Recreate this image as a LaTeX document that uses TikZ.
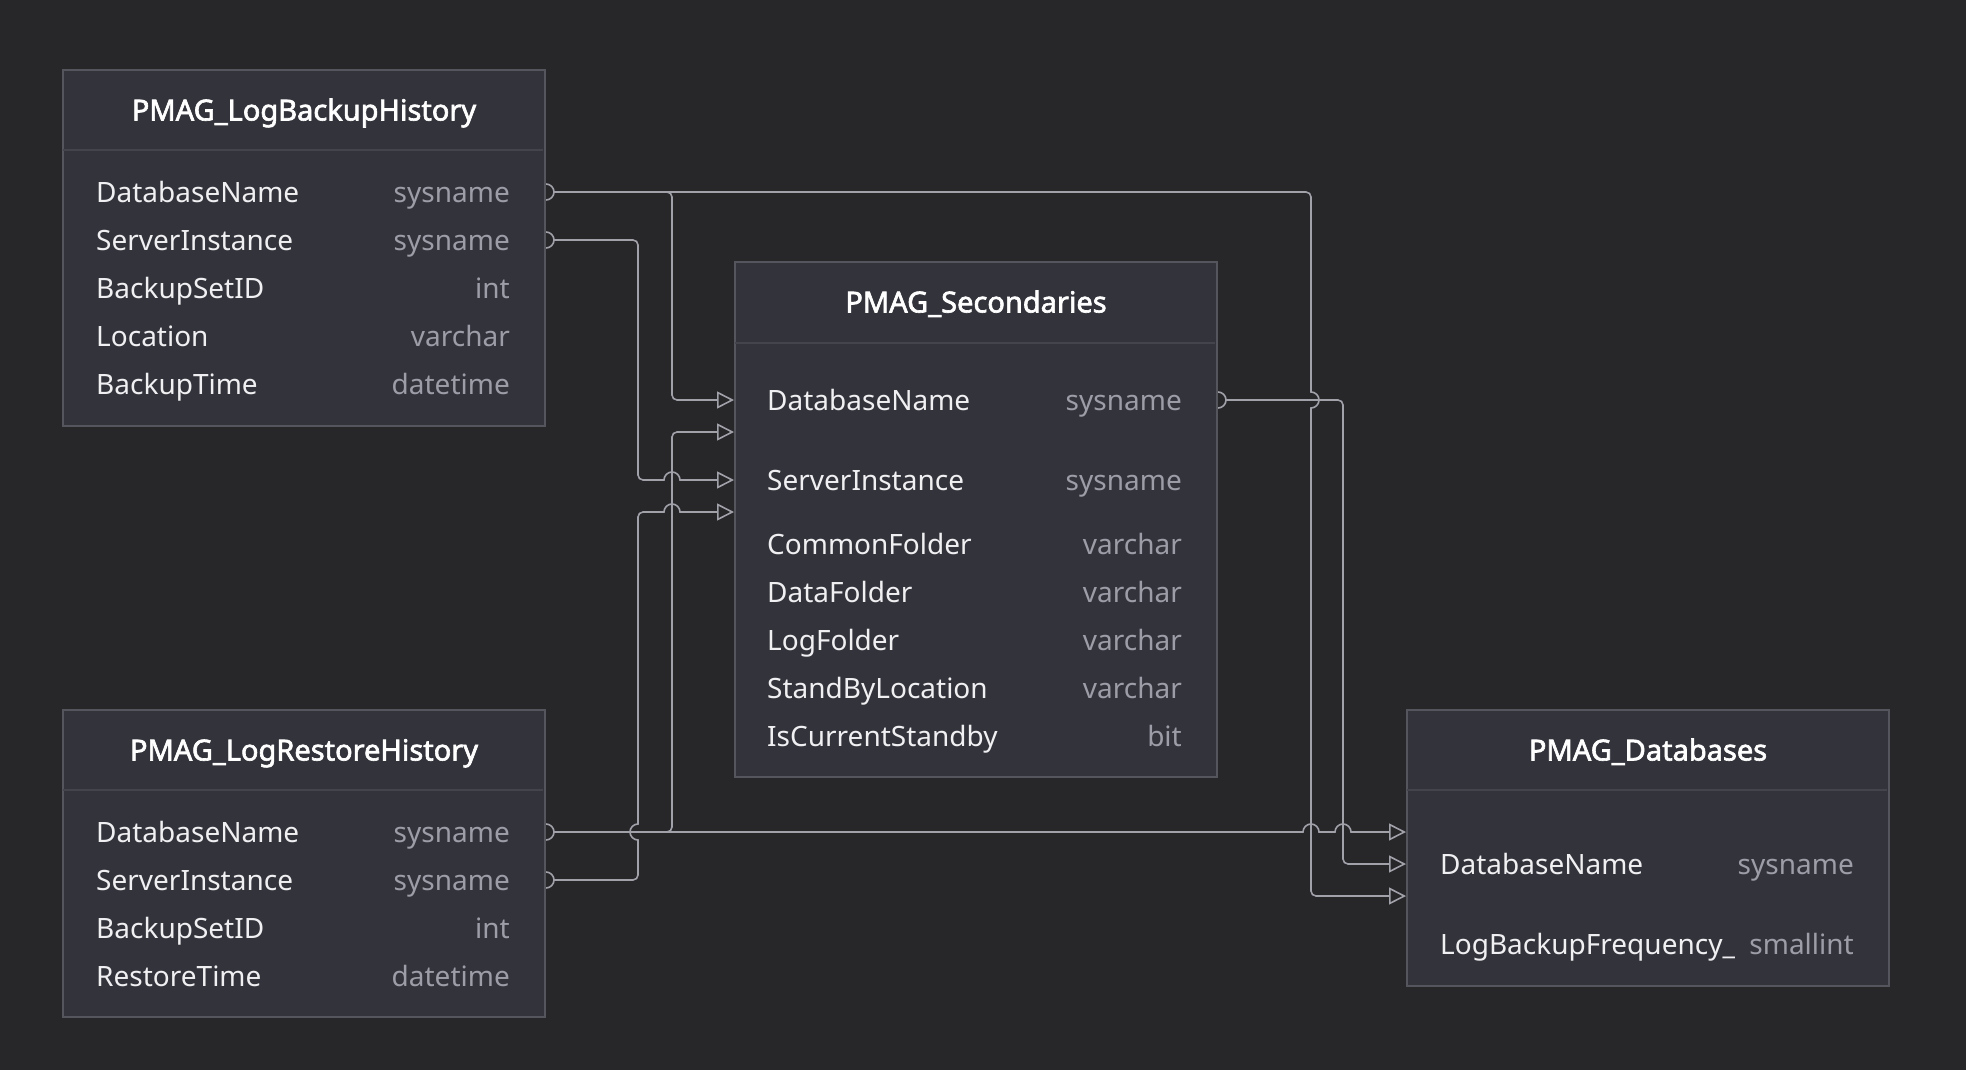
\documentclass[tikz,border=0pt]{standalone}
\usepackage{fontspec}
\setmainfont{Noto Sans}[AutoFakeBold=2.2]
\usetikzlibrary{positioning,arrows.meta,backgrounds}

\definecolor{canvas}{HTML}{27272A}
\definecolor{tablefill}{HTML}{33333C}
\definecolor{tableborder}{HTML}{55555E}
\definecolor{headrule}{HTML}{44444D}
\definecolor{linkgray}{HTML}{A1A1AA}
\definecolor{fieldtext}{HTML}{F0F0F2}
\definecolor{typetext}{HTML}{9D9DA7}

\tikzset{
  entity/.style={draw=tableborder, fill=tablefill, line width=2pt, minimum width=482pt, inner sep=0pt, anchor=north west},
  divider/.style={draw=headrule, line width=2pt},
  head/.style={inner sep=0pt, text height=21pt, text depth=0pt, text=white, font=\bfseries\fontsize{29}{34}\selectfont},
  field/.style={anchor=west, inner sep=0pt, text height=20pt, text depth=0pt, text=fieldtext, font=\fontsize{28}{33}\selectfont},
  ftype/.style={field, anchor=east, text=typetext},
  link/.style={draw=linkgray, line width=1.6pt, rounded corners=5pt},
}

\begin{document}
\begin{tikzpicture}[x=1pt, y=-1pt, >={Triangle[open, length=17pt, width=17pt]}]
\begin{pgfonlayer}{background}
\fill[canvas] (0,0) rectangle (1966,1070);
\end{pgfonlayer}
\useasboundingbox (0,0) rectangle (1966,1070);

% PMAG_LogBackupHistory
\node[entity, minimum height=356pt] (lbh) at (62,69) {};
\draw[divider] (lbh.north west) ++(1,81) -- ++(480,0);
\node[head] (lbh-title) at ([yshift=-41pt]lbh.north) {PMAG\_LogBackupHistory};
\foreach \name/\kind [count=\i] in {DatabaseName/sysname, ServerInstance/sysname, BackupSetID/int, Location/varchar, BackupTime/datetime} {
  \node[field] (lbh-f\i) at (96,{144+48*\i}) {\name};
  \node[ftype] (lbh-t\i) at (510,{144+48*\i}) {\kind};
}

% PMAG_LogRestoreHistory
\node[entity, minimum height=307pt] (lrh) at (62,709) {};
\draw[divider] (lrh.north west) ++(1,81) -- ++(480,0);
\node[head] (lrh-title) at ([yshift=-41pt]lrh.north) {PMAG\_LogRestoreHistory};
\foreach \name/\kind [count=\i] in {DatabaseName/sysname, ServerInstance/sysname, BackupSetID/int, RestoreTime/datetime} {
  \node[field] (lrh-f\i) at (96,{784+48*\i}) {\name};
  \node[ftype] (lrh-t\i) at (510,{784+48*\i}) {\kind};
}

% PMAG_Secondaries
\node[entity, minimum height=515pt] (sec) at (734,261) {};
\draw[divider] (sec.north west) ++(1,82) -- ++(480,0);
\node[head] (sec-title) at ([yshift=-41pt]sec.north) {PMAG\_Secondaries};
\foreach \name/\kind/\y [count=\i] in {DatabaseName/sysname/400, ServerInstance/sysname/480, CommonFolder/varchar/544, DataFolder/varchar/592, LogFolder/varchar/640, StandByLocation/varchar/688, IsCurrentStandby/bit/736} {
  \node[field] (sec-f\i) at (767,\y) {\name};
  \node[ftype] (sec-t\i) at (1182,\y) {\kind};
}

% PMAG_Databases
\node[entity, minimum height=276pt] (db) at (1406,709) {};
\draw[divider] (db.north west) ++(1,81) -- ++(480,0);
\node[head] (db-title) at ([yshift=-41pt]db.north) {PMAG\_Databases};
\node[field] (db-f1) at (1440,864) {DatabaseName};
\node[ftype] (db-t1) at (1854,864) {sysname};
\node[field] (db-f2) at (1440,944) {LogBackupFrequency\_};
\node[ftype] (db-t2) at (1854,944) {smallint};

% ports and routing columns
\coordinate (lbh-p1) at (lbh-f1 -| lbh.east);
\coordinate (lbh-p2) at (lbh-f2 -| lbh.east);
\coordinate (lrh-p1) at (lrh-f1 -| lrh.east);
\coordinate (lrh-p2) at (lrh-f2 -| lrh.east);
\coordinate (sec-out) at (sec-f1 -| sec.east);
\coordinate (sec-in1) at (sec-f1 -| sec.west);
\coordinate (sec-in2) at ([yshift=-32pt]sec-in1);
\coordinate (sec-in3) at (sec-f2 -| sec.west);
\coordinate (sec-in4) at ([yshift=-32pt]sec-in3);
\coordinate (db-in2) at (db-f1 -| db.west);
\coordinate (db-in1) at ([yshift=32pt]db-in2);
\coordinate (db-in3) at ([yshift=-32pt]db-in2);
\coordinate (busA) at (638,0);
\coordinate (busB) at (672,0);
\coordinate (busC) at (1311,0);
\coordinate (busD) at (1343,0);
\coordinate (hopA) at (busA |- lrh-p1);
\coordinate (hopB3) at (busB |- sec-in3);
\coordinate (hopB4) at (busB |- sec-in4);
\coordinate (hopC1) at (busC |- sec-out);
\coordinate (hopC5) at (busC |- db-in1);
\coordinate (hopD5) at (busD |- db-in1);

\begin{pgfonlayer}{background}
\draw[link, ->] ([xshift=8pt]lbh-p1) -- (lbh-p1 -| busB) -- (busB |- sec-in1) -- (sec-in1);
\draw[link, ->] ([xshift=8pt]lbh-p1) -- (lbh-p1 -| busC) [sharp corners] -- ([yshift=8pt]hopC1) arc(-90:90:8) [rounded corners=5pt] -- (busC |- db-in3) -- (db-in3);
\draw[link, ->] ([xshift=8pt]lbh-p2) -- (lbh-p2 -| busA) -- (busA |- sec-in3) [sharp corners] -- ([xshift=-8pt]hopB3) arc(180:360:8) -- (sec-in3);
\draw[link, ->] ([xshift=8pt]lrh-p1) -- (lrh-p1 -| busB) -- (busB |- sec-in2) -- (sec-in2);
\draw[link, sharp corners, ->] ([xshift=8pt]lrh-p1) -- ([xshift=-8pt]hopC5) arc(180:360:8) -- ([xshift=-8pt]hopD5) arc(180:360:8) -- (db-in1);
\draw[link, ->] ([xshift=8pt]lrh-p2) -- (lrh-p2 -| busA) [sharp corners] -- ([yshift=-8pt]hopA) arc(90:270:8) [rounded corners=5pt] -- (busA |- sec-in4) [sharp corners] -- ([xshift=-8pt]hopB4) arc(180:360:8) -- (sec-in4);
\draw[link, ->] ([xshift=8pt]sec-out) -- (sec-out -| busD) -- (busD |- db-in2) -- (db-in2);
\foreach \p in {lbh-p1, lbh-p2, lrh-p1, lrh-p2, sec-out}
  \draw[link, sharp corners] ([yshift=8pt]\p) arc(-90:90:8);
\end{pgfonlayer}
\end{tikzpicture}
\end{document}
